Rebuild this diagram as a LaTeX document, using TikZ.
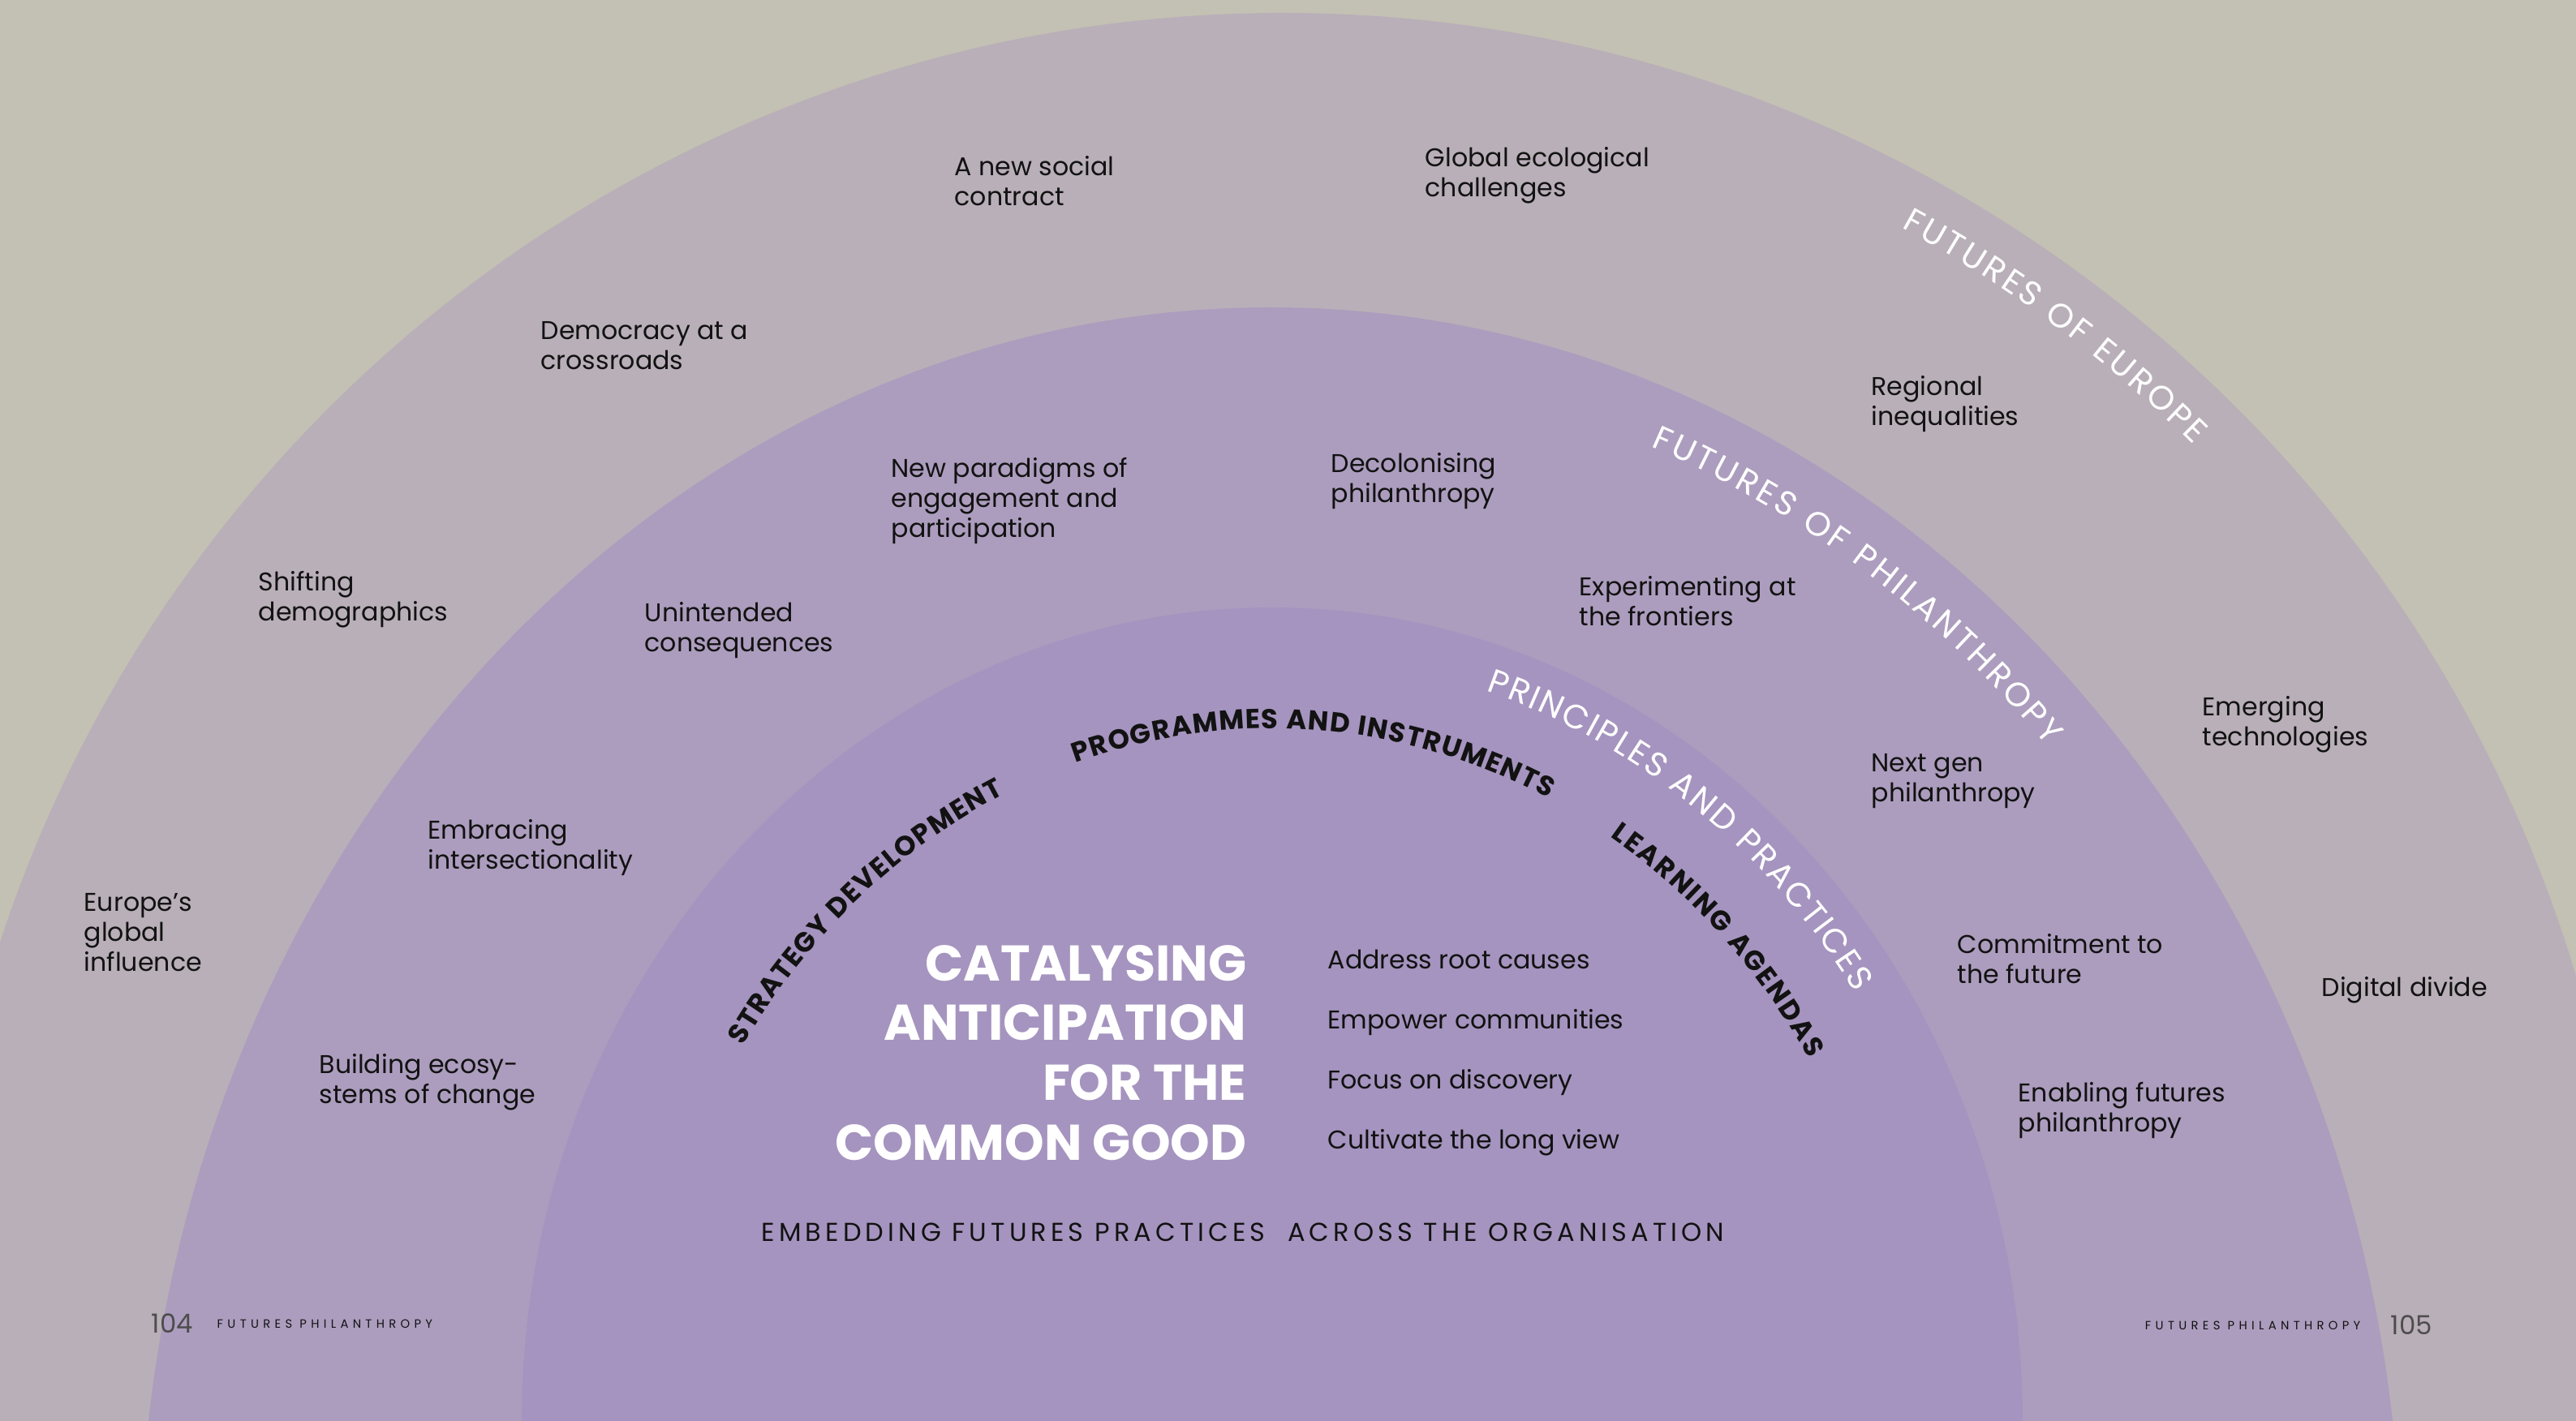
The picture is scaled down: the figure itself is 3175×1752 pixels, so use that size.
\documentclass[tikz,border=0pt]{standalone}
\usepackage{fontspec}
\setmainfont{Poppins}
\newfontfamily\trackfont[LetterSpace=16]{Poppins}
\newfontfamily\footfont[LetterSpace=36]{Poppins}
\usetikzlibrary{decorations.text}
\definecolor{bgbeige}{HTML}{C3C0B4}
\definecolor{europe}{HTML}{B9AFB8}
\definecolor{philan}{HTML}{AC9DBE}
\definecolor{princ}{HTML}{A594BF}
\definecolor{ink}{HTML}{121212}
\begin{document}
\begin{tikzpicture}[
        x=0.01cm, y=0.01cm,
        item/.style={anchor=north west, align=left, inner sep=0pt, text=ink,
                font=\fontsize{9}{10.5}\selectfont},
        arclabel/.style={decorate, decoration={text along path, text align={fit to path},
                text color=white, text={|\fontsize{11.8}{12}\selectfont|#1}}},
        ringlabel/.style={decorate, decoration={text along path, text align={fit to path},
                text color=ink, text={|\fontsize{9.6}{10}\selectfont\bfseries|#1}}}
    ]
    \useasboundingbox (0,0) rectangle (3175,1752);
    \clip (0,0) rectangle (3175,1752);
    \fill[bgbeige] (0,0) rectangle (3175,1752);
    \fill[europe] (1581,73) circle[radius=1663];
    \fill[philan] (1566,-198) ellipse[x radius=1394, y radius=1571];
    \fill[princ] (1568,0) ellipse[x radius=925, y radius=1003];

    \path[arclabel=FUTURES OF EUROPE] ([shift={(61.4:1593)}]1581,73)
        arc[start angle=61.4, end angle=45.2, radius=1593];
    \path[arclabel=FUTURES OF PHILANTHROPY] ([shift={(69.2:1320 and 1497)}]1566,-198)
        arc[start angle=69.2, end angle=43.5, x radius=1320, y radius=1497];
    \path[arclabel=PRINCIPLES AND PRACTICES] ([shift={(72.3:867 and 945)}]1568,0)
        arc[start angle=72.3, end angle=34, x radius=867, y radius=945];
    \path[ringlabel=STRATEGY DEVELOPMENT] ([shift={(147.2:776 and 854)}]1568,0)
        arc[start angle=147.2, end angle=115.2, x radius=776, y radius=854];
    \path[ringlabel=PROGRAMMES AND INSTRUMENTS] ([shift={(108.2:776 and 854)}]1568,0)
        arc[start angle=108.2, end angle=64, x radius=776, y radius=854];
    \path[ringlabel=LEARNING AGENDAS] ([shift={(57.5:776 and 854)}]1568,0)
        arc[start angle=57.5, end angle=31.5, x radius=776, y radius=854];

    \node[item] (social) at (1176,1560) {A new social\\contract};
    \node[item] (ecology) at (1756,1571) {Global ecological\\challenges};
    \node[item] (democracy) at (666,1356) {Democracy at a\\crossroads};
    \node[item] (regional) at (2306,1289) {Regional\\inequalities};
    \node[item] (paradigms) at (1098,1188) {New paradigms of\\engagement and\\participation};
    \node[item] (decolonising) at (1640,1194) {Decolonising\\philanthropy};
    \node[item] (demographics) at (318,1048) {Shifting\\demographics};
    \node[item] (unintended) at (794,1010) {Unintended\\consequences};
    \node[item] (frontiers) at (1946,1042) {Experimenting at\\the frontiers};
    \node[item] (emerging) at (2714,894) {Emerging\\technologies};
    \node[item] (nextgen) at (2306,823) {Next gen\\philanthropy};
    \node[item] (intersect) at (527,742) {Embracing\\intersectionality};
    \node[item] (influence) at (103,651) {Europe’s\\global\\influence};
    \node[item] (commitment) at (2412,601) {Commitment to\\the future};
    \node[item] (divide) at (2861,548) {Digital divide};
    \node[item] (ecosystems) at (393,453) {Building ecosy-\\stems of change};
    \node[item] (enabling) at (2487,418) {Enabling futures\\philanthropy};

    \node[anchor=east, align=right, inner sep=0pt, text=white,
        font=\fontsize{17.6}{21}\selectfont\bfseries] (title) at (1537,454)
        {CATALYSING\\ANTICIPATION\\FOR THE\\COMMON GOOD};
    \node[anchor=west, align=left, inner sep=0pt, text=ink,
        font=\fontsize{9}{21}\selectfont] (aims) at (1636,454)
        {Address root causes\\Empower communities\\Focus on discovery\\Cultivate the long view};
    \node[inner sep=0pt, text=ink, font=\trackfont\fontsize{9.1}{10}\selectfont]
        (embedding) at (1532,233) {EMBEDDING FUTURES PRACTICES\ \ ACROSS THE ORGANISATION};

    \node[anchor=west, inner sep=0pt, text=ink!75, font=\fontsize{9.2}{12}\selectfont]
        (pageleft) at (186,120) {104};
    \node[anchor=west, inner sep=0pt, text=ink, font=\footfont\fontsize{4.2}{5}\selectfont]
        (footleft) at (267,120) {FUTURES PHILANTHROPY};
    \node[anchor=east, inner sep=0pt, text=ink, font=\footfont\fontsize{4.2}{5}\selectfont]
        (footright) at (2910,118) {FUTURES PHILANTHROPY};
    \node[anchor=west, inner sep=0pt, text=ink!75, font=\fontsize{9.2}{12}\selectfont]
        (pageright) at (2946,118) {105};
\end{tikzpicture}
\end{document}
